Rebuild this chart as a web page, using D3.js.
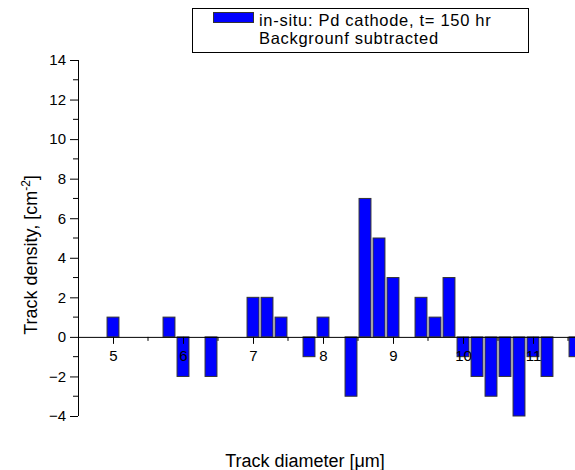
<!DOCTYPE html>
<html><head><meta charset="utf-8">
<script src="https://cdn.jsdelivr.net/npm/d3@7"></script>
<style>
body{margin:0;background:#fff;}
svg{display:block;font-family:"Liberation Sans",Arial,sans-serif;}
</style></head>
<body>
<svg id="chart" width="575" height="470"></svg>
<script>
const diameters = [5.0, 5.8, 6.0, 6.4, 7.0, 7.2, 7.4, 7.8, 8.0, 8.4, 8.6, 8.8, 9.0, 9.4, 9.6, 9.8, 10.0, 10.2, 10.4, 10.6, 10.8, 11.0, 11.2, 11.6];
const densities = [1, 1, -2, -2, 2, 2, 1, -1, 1, -3, 7, 5, 3, 2, 1, 3, -1, -2, -3, -2, -4, -1, -2, -1];
const xTickValues = [5, 6, 7, 8, 9, 10, 11];
const yTickValues = [-4, -2, 0, 2, 4, 6, 8, 10, 12, 14];
const legendLines = ["in-situ: Pd cathode, t= 150 hr", "Backgrounf subtracted"];
const xTitle = "Track diameter [\u03BCm]";

const svg = d3.select("#chart");
const x = d3.scaleLinear().domain([4.5, 12.5]).range([78, 638]);
const y = d3.scaleLinear().domain([-4, 14]).range([416, 60]);
const halfW = 0.085;
const FONT = "Liberation Sans, Arial, sans-serif";

// bars
svg.append("g").selectAll("rect").data(diameters.map((d,i)=>({d, v: densities[i]})))
  .join("rect")
  .attr("x", p => x(p.d - halfW))
  .attr("width", p => x(p.d + halfW) - x(p.d - halfW))
  .attr("y", p => y(Math.max(0, p.v)))
  .attr("height", p => Math.abs(y(p.v) - y(0)))
  .attr("fill", "#0000ff")
  .attr("stroke", "#333")
  .attr("stroke-width", 1);

// y axis
const yAxis = d3.axisLeft(y).tickValues(yTickValues).tickSize(8).tickPadding(4).tickFormat(d3.format("d"));
const gy = svg.append("g").attr("transform", "translate(78,0)").call(yAxis);
gy.select(".domain").attr("d", `M0.5,${y(14)}V${y(-4)}`).attr("stroke", "#000");
gy.selectAll(".tick line").attr("stroke", "#000");
gy.selectAll(".tick text").attr("font-size", 15).attr("font-family", FONT).attr("fill", "#000");
const yMinor = d3.range(-3, 14, 2);
svg.append("g").selectAll("line").data(yMinor).join("line")
  .attr("x1", 73).attr("x2", 78).attr("y1", d => y(d)).attr("y2", d => y(d)).attr("stroke", "#000");

// x axis at zero
const xAxis = d3.axisBottom(x).tickValues(xTickValues).tickSize(7).tickPadding(6).tickFormat(d3.format("d"));
const gx = svg.append("g").attr("transform", `translate(0,${y(0)})`).call(xAxis);
gx.select(".domain").attr("d", `M78,0.5H640`).attr("stroke", "#000");
gx.selectAll(".tick line").attr("stroke", "#000");
gx.selectAll(".tick text").attr("font-size", 15).attr("font-family", FONT).attr("fill", "#000");
const xMinor = d3.range(5.5, 12.5, 1);
svg.append("g").selectAll("line").data(xMinor).join("line")
  .attr("x1", d => x(d)).attr("x2", d => x(d)).attr("y1", y(0)).attr("y2", y(0) + 4).attr("stroke", "#000");

// axis titles
svg.append("text").attr("transform", "translate(37,255) rotate(-90)")
  .attr("text-anchor", "middle").attr("font-size", 18).attr("fill", "#000")
  .call(t => {
    t.append("tspan").text("Track density, [cm");
    t.append("tspan").attr("dy", -7).attr("font-size", 12).text("-2");
    t.append("tspan").attr("dy", 7).text("]");
  });
svg.append("text").attr("x", 305).attr("y", 467).attr("text-anchor", "middle")
  .attr("font-size", 18).attr("fill", "#000").text(xTitle);

// legend
const lg = svg.append("g");
lg.append("rect").attr("x", 192.5).attr("y", 8.5).attr("width", 336).attr("height", 44)
  .attr("fill", "#fff").attr("stroke", "#000");
lg.append("rect").attr("x", 213.5).attr("y", 12.5).attr("width", 40).attr("height", 10)
  .attr("fill", "#0000ff").attr("stroke", "#333");
lg.selectAll("text.l").data(legendLines).join("text").attr("class", "l")
  .attr("x", 259).attr("y", (d, i) => 26 + i * 18)
  .attr("font-size", 16.5).attr("letter-spacing", 0.7).attr("fill", "#000").text(d => d);
</script>
</body></html>
